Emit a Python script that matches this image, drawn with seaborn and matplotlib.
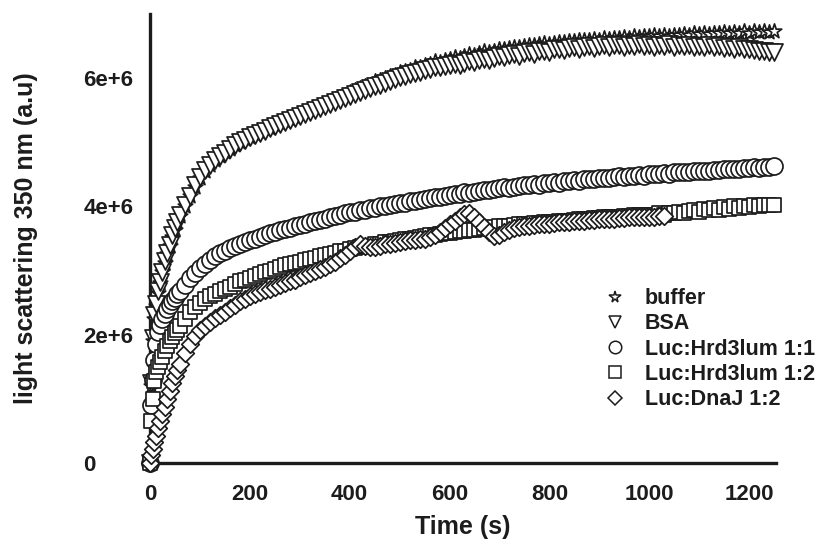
import matplotlib
matplotlib.use("Agg")
import matplotlib.pyplot as plt
from matplotlib.lines import Line2D
import numpy as np
import pandas as pd
import seaborn as sns

# sampling times (s): dense at the start, then every 10 s
time_s = [0, 3, 6, 9, 12, 16, 20, 25, 30, 35, 40, 45, 50, 55] + list(range(60, 1251, 10))

# light scattering values, in units of 1e6 (a.u)
buffer_vals = [0, 1.2, 1.9, 2.25, 2.45, 2.65, 2.8, 2.97, 3.12, 3.26, 3.39, 3.52, 3.64, 3.75,
               3.85, 4.01, 4.16, 4.31, 4.44, 4.55, 4.64, 4.72, 4.78, 4.85,
               4.9, 4.96, 5.0, 5.05, 5.09, 5.13, 5.16, 5.2, 5.23, 5.27,
               5.3, 5.33, 5.37, 5.4, 5.44, 5.47, 5.5, 5.54, 5.57, 5.6,
               5.64, 5.67, 5.71, 5.74, 5.78, 5.81, 5.85, 5.88, 5.9, 5.95,
               5.97, 6.01, 6.03, 6.05, 6.09, 6.11, 6.12, 6.17, 6.18, 6.2,
               6.22, 6.26, 6.25, 6.29, 6.3, 6.33, 6.31, 6.35, 6.37, 6.36,
               6.39, 6.42, 6.41, 6.43, 6.46, 6.45, 6.47, 6.49, 6.48, 6.5,
               6.52, 6.51, 6.53, 6.55, 6.54, 6.55, 6.57, 6.56, 6.58, 6.58,
               6.59, 6.6, 6.59, 6.61, 6.6, 6.62, 6.61, 6.63, 6.62, 6.64,
               6.63, 6.65, 6.64, 6.66, 6.65, 6.67, 6.66, 6.68, 6.66, 6.68,
               6.67, 6.69, 6.68, 6.7, 6.69, 6.71, 6.69, 6.71, 6.7, 6.72,
               6.7, 6.72, 6.71, 6.73, 6.71, 6.73, 6.72, 6.74, 6.72, 6.73]
bsa_vals = [0, 1.25, 1.95, 2.3, 2.48, 2.68, 2.82, 2.98, 3.15, 3.28, 3.4, 3.55, 3.66, 3.76,
            3.86, 4.02, 4.17, 4.33, 4.46, 4.57, 4.65, 4.72, 4.78, 4.84,
            4.9, 4.95, 5.0, 5.04, 5.08, 5.11, 5.15, 5.18, 5.22, 5.25,
            5.28, 5.31, 5.35, 5.38, 5.41, 5.44, 5.47, 5.5, 5.53, 5.56,
            5.6, 5.63, 5.66, 5.69, 5.72, 5.75, 5.78, 5.81, 5.84, 5.87,
            5.9, 5.93, 5.96, 5.99, 6.02, 6.04, 6.06, 6.08, 6.1, 6.13,
            6.15, 6.17, 6.18, 6.19, 6.2, 6.22, 6.21, 6.24, 6.26, 6.25,
            6.28, 6.3, 6.29, 6.32, 6.34, 6.33, 6.36, 6.37, 6.35, 6.39,
            6.4, 6.38, 6.42, 6.43, 6.41, 6.45, 6.46, 6.44, 6.47, 6.48,
            6.46, 6.49, 6.5, 6.47, 6.5, 6.51, 6.48, 6.51, 6.52, 6.49,
            6.52, 6.5, 6.53, 6.5, 6.52, 6.49, 6.52, 6.5, 6.53, 6.49,
            6.51, 6.5, 6.52, 6.48, 6.5, 6.49, 6.51, 6.48, 6.5, 6.47,
            6.49, 6.46, 6.48, 6.45, 6.46, 6.44, 6.43, 6.42, 6.4, 6.4]
hrd_11_vals = [0, 0.9, 1.3, 1.6, 1.85, 2.05, 2.15, 2.25, 2.33, 2.4, 2.46, 2.52, 2.58, 2.63,
               2.68, 2.78, 2.88, 2.96, 3.04, 3.1, 3.16, 3.22, 3.27, 3.31,
               3.35, 3.39, 3.42, 3.45, 3.48, 3.5, 3.53, 3.56, 3.58, 3.6,
               3.63, 3.65, 3.67, 3.69, 3.71, 3.73, 3.75, 3.77, 3.79, 3.81,
               3.83, 3.85, 3.87, 3.89, 3.91, 3.92, 3.94, 3.95, 3.97, 3.98,
               4.0, 4.01, 4.03, 4.04, 4.05, 4.06, 4.08, 4.09, 4.1, 4.11,
               4.13, 4.14, 4.15, 4.17, 4.18, 4.19, 4.2, 4.22, 4.21, 4.23,
               4.24, 4.26, 4.25, 4.27, 4.28, 4.3, 4.29, 4.31, 4.32, 4.33,
               4.33, 4.35, 4.34, 4.36, 4.37, 4.38, 4.37, 4.39, 4.4, 4.41,
               4.4, 4.42, 4.43, 4.42, 4.44, 4.45, 4.44, 4.46, 4.47, 4.46,
               4.48, 4.47, 4.49, 4.48, 4.5, 4.5, 4.51, 4.52, 4.51, 4.53,
               4.53, 4.54, 4.53, 4.55, 4.55, 4.56, 4.55, 4.57, 4.57, 4.58,
               4.58, 4.59, 4.58, 4.6, 4.6, 4.61, 4.6, 4.62, 4.62, 4.63]
hrd_12_vals = [0, 0.65, 1.0, 1.28, 1.42, 1.5, 1.58, 1.66, 1.75, 1.83, 1.9, 1.96, 2.02, 2.08,
               2.13, 2.25, 2.35, 2.43, 2.5, 2.55, 2.6, 2.64, 2.68, 2.72,
               2.75, 2.79, 2.83, 2.86, 2.89, 2.92, 2.95, 2.98, 3.0, 3.03,
               3.05, 3.08, 3.1, 3.12, 3.14, 3.16, 3.18, 3.2, 3.22, 3.24,
               3.26, 3.28, 3.3, 3.31, 3.33, 3.35, 3.36, 3.38, 3.39, 3.41,
               3.42, 3.44, 3.45, 3.46, 3.48, 3.49, 3.5, 3.51, 3.52, 3.54,
               3.55, 3.56, 3.57, 3.58, 3.59, 3.6, 3.61, 3.62, 3.63, 3.64,
               3.65, 3.66, 3.67, 3.68, 3.69, 3.7, 3.7, 3.71, 3.72, 3.72,
               3.73, 3.74, 3.74, 3.75, 3.76, 3.76, 3.77, 3.78, 3.78, 3.79,
               3.8, 3.8, 3.81, 3.82, 3.82, 3.83, 3.83, 3.84, 3.84, 3.85,
               3.85, 3.86, 3.86, 3.87, 3.87, 3.86, 3.89, 3.87, 3.9, 3.89,
               3.92, 3.9, 3.93, 3.95, 3.92, 3.96, 3.94, 3.97, 3.95, 3.99,
               3.96, 4.0, 3.98, 4.01, 3.99, 4.02, 4.0, 4.03, 4.02, 4.03]
dnaj_vals = [0, 0.12, 0.22, 0.32, 0.42, 0.55, 0.66, 0.76, 0.88, 1.0, 1.12, 1.24, 1.35, 1.45,
             1.54, 1.72, 1.86, 1.98, 2.07, 2.14, 2.2, 2.26, 2.31, 2.36,
             2.42, 2.47, 2.52, 2.56, 2.6, 2.63, 2.66, 2.69, 2.72, 2.75,
             2.78, 2.8, 2.83, 2.86, 2.9, 2.93, 2.96, 2.99, 3.02, 3.06,
             3.1, 3.14, 3.19, 3.25, 3.31, 3.37, 3.42, 3.38, 3.36, 3.37,
             3.39, 3.41, 3.42, 3.43, 3.45, 3.46, 3.47, 3.48, 3.49, 3.5,
             3.52, 3.55, 3.6, 3.66, 3.72, 3.78, 3.84, 3.88, 3.9, 3.84,
             3.76, 3.68, 3.6, 3.54, 3.56, 3.6, 3.64, 3.67, 3.68, 3.69,
             3.7, 3.71, 3.72, 3.73, 3.73, 3.74, 3.75, 3.76, 3.76, 3.77,
             3.78, 3.78, 3.79, 3.79, 3.8, 3.8, 3.81, 3.81, 3.82, 3.82,
             3.83, 3.83, 3.83, 3.84, 3.84, 3.84, 3.85, 3.85]

labels = ["buffer", "BSA", "Luc:Hrd3lum 1:1", "Luc:Hrd3lum 1:2", "Luc:DnaJ 1:2"]
series = [buffer_vals, bsa_vals, hrd_11_vals, hrd_12_vals, dnaj_vals]
x_ticks = [0, 200, 400, 600, 800, 1000, 1200]
y_ticks = [0, 2e6, 4e6, 6e6]
y_tick_labels = ["0", "2e+6", "4e+6", "6e+6"]

markers = ["*", "v", "o", "s", "D"]
sizes = [120, 150, 150, 115, 80]
leg_sizes = [8.5, 8.5, 9, 8, 7]

frames = []
for lab, vals in zip(labels, series):
    frames.append(pd.DataFrame({"time": time_s[:len(vals)],
                                "signal": np.array(vals) * 1e6,
                                "sample": lab}))
df = pd.concat(frames, ignore_index=True)

sns.set_style("white")
plt.rcParams["font.family"] = ["Liberation Sans", "DejaVu Sans"]
plt.rcParams["font.weight"] = "bold"
ink = "#1c1c1c"

fig = plt.figure(figsize=(8.24, 5.53), dpi=100)
ax = fig.add_axes([150 / 824, 1 - 463 / 553, 626 / 824, 449 / 553])

for i, lab in enumerate(labels):
    sns.scatterplot(data=df[df["sample"] == lab], x="time", y="signal",
                    marker=markers[i], s=sizes[i], color="white",
                    edgecolor=ink, linewidth=1.25, legend=False,
                    ax=ax, clip_on=False, zorder=3 + i)

ax.set_xlim(0, 1254)
ax.set_ylim(0, 7.0e6)
ax.set_xticks(x_ticks)
ax.set_yticks(y_ticks)
ax.set_yticklabels(y_tick_labels)
ax.set_xticklabels([str(v) for v in x_ticks])

sns.despine(ax=ax)
for side in ["left", "bottom"]:
    ax.spines[side].set_linewidth(2.4)
    ax.spines[side].set_color(ink)
ax.tick_params(axis="both", direction="out", length=5, width=2.2, color=ink,
               labelsize=16, labelcolor=ink)
ax.tick_params(axis="x", pad=10)
ax.tick_params(axis="y", pad=43)
for t in ax.get_yticklabels():
    t.set_horizontalalignment("left")
    t.set_fontweight("bold")
for t in ax.get_xticklabels():
    t.set_fontweight("bold")

ax.set_xlabel("Time (s)", fontsize=18, fontweight="bold", color=ink)
ax.set_ylabel("light scattering 350 nm (a.u)", fontsize=18, fontweight="bold", color=ink)
ax.xaxis.set_label_coords(0.5, -0.115)
ax.yaxis.set_label_coords(-0.179, 0.5)

handles = [Line2D([], [], linestyle="none", marker=markers[i], markersize=leg_sizes[i],
                  markerfacecolor="white", markeredgecolor=ink, markeredgewidth=1.1)
           for i in range(len(labels))]
leg = ax.legend(handles, labels, loc="upper left", bbox_to_anchor=(604 / 824, 0.479),
                bbox_transform=fig.transFigure, frameon=False, fontsize=15.5,
                handlelength=1.0, handletextpad=0.9, labelspacing=0.2,
                borderpad=0, borderaxespad=0)
for t in leg.get_texts():
    t.set_fontweight("bold")
    t.set_color(ink)

fig.savefig("out.png", dpi=100)
